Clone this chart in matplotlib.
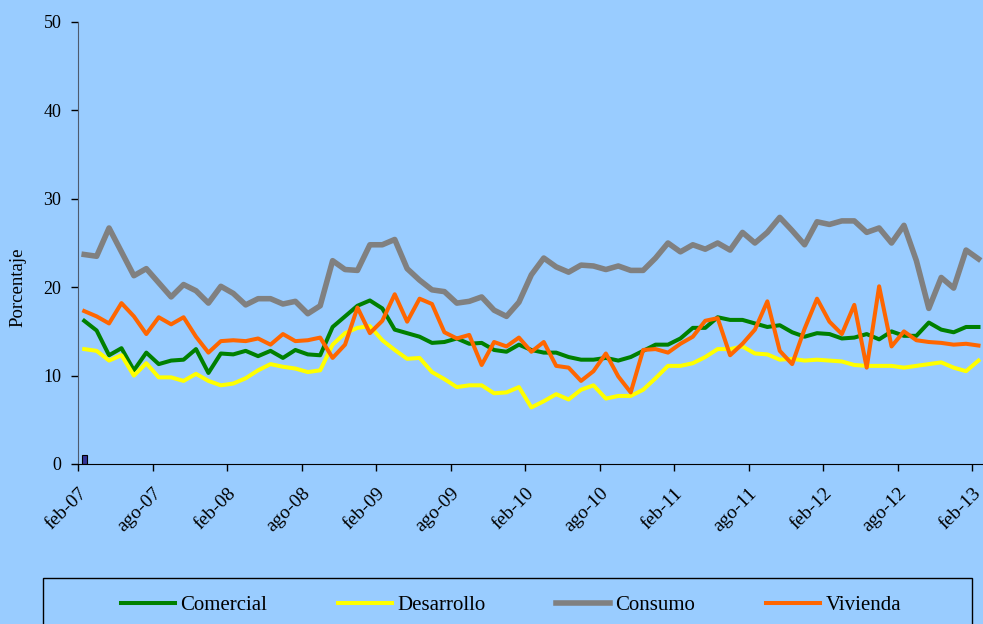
import numpy as np
import matplotlib.pyplot as plt
from matplotlib.patches import Rectangle
from matplotlib.transforms import ScaledTranslation

plt.rcParams['font.family'] = ['Liberation Serif', 'DejaVu Serif']

# monthly series feb-07 .. feb-13 (73 months), in %
comercial = [16.2, 15.1, 12.3, 13.1, 10.6, 12.6, 11.3, 11.7, 11.8, 13.0, 10.3, 12.5,
             12.4, 12.8, 12.2, 12.8, 12.0, 12.9, 12.4, 12.3, 15.5, 16.7, 17.9, 18.5,
             17.6, 15.2, 14.8, 14.4, 13.7, 13.8, 14.2, 13.6, 13.7, 12.9, 12.7, 13.5,
             12.9, 12.6, 12.6, 12.1, 11.8, 11.8, 12.0, 11.7, 12.1, 12.8, 13.5, 13.5,
             14.2, 15.4, 15.4, 16.6, 16.3, 16.3, 15.9, 15.5, 15.7, 14.9, 14.4, 14.8,
             14.7, 14.2, 14.3, 14.7, 14.1, 15.0, 14.5, 14.5, 16.0, 15.2, 14.9, 15.5, 15.5]
desarrollo = [13.0, 12.8, 11.7, 12.3, 10.0, 11.4, 9.8, 9.8, 9.4, 10.2, 9.4, 8.9,
              9.1, 9.7, 10.6, 11.3, 11.0, 10.8, 10.4, 10.6, 13.5, 14.8, 15.4, 15.6,
              14.0, 12.9, 11.9, 12.0, 10.4, 9.6, 8.7, 8.9, 8.9, 8.0, 8.1, 8.7,
              6.4, 7.1, 7.9, 7.3, 8.4, 8.9, 7.4, 7.7, 7.7, 8.4, 9.7, 11.1,
              11.1, 11.4, 12.1, 13.0, 13.0, 13.3, 12.5, 12.4, 11.8, 11.9, 11.7, 11.8,
              11.7, 11.6, 11.2, 11.1, 11.1, 11.1, 10.9, 11.1, 11.3, 11.5, 10.9, 10.5, 11.7]
consumo = [23.7, 23.5, 26.7, 24.0, 21.3, 22.1, 20.5, 18.9, 20.3, 19.6, 18.2, 20.1,
           19.3, 18.0, 18.7, 18.7, 18.1, 18.4, 17.0, 17.9, 23.0, 22.0, 21.9, 24.8,
           24.8, 25.4, 22.1, 20.8, 19.7, 19.5, 18.2, 18.4, 18.9, 17.4, 16.7, 18.3,
           21.4, 23.3, 22.3, 21.7, 22.5, 22.4, 22.0, 22.4, 21.9, 21.9, 23.3, 25.0,
           24.0, 24.8, 24.3, 25.0, 24.2, 26.2, 25.0, 26.2, 27.9, 26.4, 24.8, 27.4,
           27.1, 27.5, 27.5, 26.2, 26.7, 25.0, 27.0, 23.0, 17.6, 21.1, 19.9, 24.2, 23.2]
vivienda = [17.3, 16.7, 15.9, 18.2, 16.7, 14.7, 16.6, 15.8, 16.6, 14.4, 12.6, 13.9,
            14.0, 13.9, 14.2, 13.5, 14.7, 13.9, 14.0, 14.3, 12.0, 13.5, 17.7, 14.8,
            16.2, 19.2, 16.1, 18.7, 18.1, 14.9, 14.2, 14.6, 11.2, 13.8, 13.3, 14.3,
            12.7, 13.8, 11.1, 10.9, 9.4, 10.5, 12.5, 9.9, 8.1, 12.9, 13.0, 12.6,
            13.6, 14.4, 16.2, 16.5, 12.3, 13.6, 15.2, 18.4, 12.8, 11.3, 15.3, 18.7,
            16.1, 14.7, 18.0, 10.9, 20.1, 13.3, 15.0, 14.0, 13.8, 13.7, 13.5, 13.6, 13.4]
barra = [1.0]  # small bar shown at feb-07

tick_labels = ['feb-07', 'ago-07', 'feb-08', 'ago-08', 'feb-09', 'ago-09', 'feb-10',
               'ago-10', 'feb-11', 'ago-11', 'feb-12', 'ago-12', 'feb-13']

bg = '#99CCFF'
fig = plt.figure(figsize=(9.83, 6.24), dpi=100, facecolor=bg)
ax = fig.add_axes([78/983, 1-464/624, 906.7/983, 442/624])
ax.set_facecolor(bg)

x = np.arange(len(comercial)) + 0.5
ax.bar(np.arange(len(barra)) + 0.52, barra, width=0.43, color='#333399',
       edgecolor='black', linewidth=0.8, zorder=2)
ax.plot(x, comercial, color='#008000', lw=2.9, label='Comercial', zorder=3)
ax.plot(x, desarrollo, color='#FFFF00', lw=2.9, label='Desarrollo', zorder=3)
ax.plot(x, consumo, color='#808080', lw=4.0, label='Consumo', zorder=3)
ax.plot(x, vivienda, color='#FF6600', lw=2.9, label='Vivienda', zorder=4)

ax.set_xlim(0, 73)
ax.set_ylim(0, 50)
ax.set_yticks(range(0, 51, 10))
ax.set_xticks(range(0, 73, 6))
ax.set_xticklabels(tick_labels, rotation=45, ha='right', va='top',
                   rotation_mode='anchor', fontsize=14)
off = ScaledTranslation(9/100, 0, fig.dpi_scale_trans)
for lab in ax.get_xticklabels():
    lab.set_transform(lab.get_transform() + off)
ax.tick_params(axis='x', length=5, width=1, pad=10, direction='out')
ax.tick_params(axis='y', length=5, width=1, pad=7, direction='out', labelsize=13)
ax.set_ylabel('Porcentaje', fontsize=13.5)
ax.yaxis.set_label_coords(-52/906.7, (464-287)/442)

for s in ['top', 'right']:
    ax.spines[s].set_visible(False)
ax.spines['left'].set_color('#4d5a6e')
ax.spines['bottom'].set_color('black')

# legend box at the bottom, partly cut off like the original
fig.patches.append(Rectangle((43/983, -0.05), (972-43)/983, 0.05 + 1-578/624,
                             transform=fig.transFigure, facecolor='none',
                             edgecolor='black', linewidth=1))
fig.legend(loc='center', bbox_to_anchor=(511/983, 1-605/624), ncol=4,
           frameon=False, fontsize=15, handlelength=2.6, handletextpad=0.25,
           columnspacing=3.4)

fig.savefig('out.png', dpi=100, facecolor=bg)
